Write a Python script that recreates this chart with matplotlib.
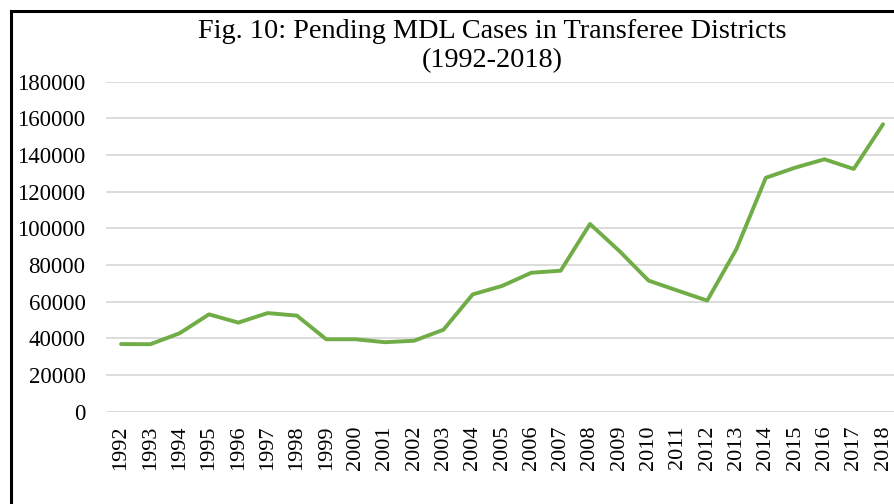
import matplotlib
matplotlib.use("Agg")
import matplotlib.pyplot as plt
from matplotlib.patches import Rectangle

years = [str(y) for y in range(1992, 2019)]
pending = [36900, 36800, 42800, 53100, 48600, 53800, 52400, 39500, 39500, 37900,
           38700, 44700, 64000, 68600, 75800, 76900, 102400, 87700, 71500, 66000,
           60600, 88800, 127600, 133100, 137700, 132400, 156800]
yticks = list(range(0, 180001, 20000))

plt.rcParams['font.family'] = ['Liberation Serif', 'DejaVu Serif']

W, H = 894, 504
fig = plt.figure(figsize=(W / 100, H / 100), dpi=100)
fig.patch.set_facecolor('white')

ax = fig.add_axes([106.4 / W, 1 - 411.7 / H, (897.7 - 106.4) / W, (411.7 - 81.7) / H])
x = list(range(len(years)))
ax.plot(x, pending, color='#70ad47', linewidth=2.8, solid_capstyle='round', solid_joinstyle='round', zorder=3)
ax.set_xlim(-0.5, len(years) - 0.5)
ax.set_ylim(0, 180000)
ax.set_yticks(yticks)
ax.set_yticklabels([str(v) for v in yticks], fontsize=16.5)
ax.set_xticks(x)
ax.set_xticklabels(years, rotation=90, fontsize=16)
ax.grid(axis='y', color='#d9d9d9', linewidth=1.3, zorder=0)
for s in ax.spines.values():
    s.set_visible(False)
ax.tick_params(axis='both', length=0)
ax.tick_params(axis='y', pad=15)
ax.tick_params(axis='x', pad=10)

fig.text(492 / W, 1 - 31 / H, "Fig. 10: Pending MDL Cases in Transferee Districts",
         ha='center', va='center', fontsize=20.3)
fig.text(492 / W, 1 - 61 / H, "(1992-2018)", ha='center', va='center', fontsize=20.3)

# outer frame (left and top visible)
fig.add_artist(Rectangle((11 / W, -0.1), 2.0, 1.1 - 11 / H, transform=fig.transFigure,
                         fill=False, edgecolor='black', linewidth=2.2))

fig.savefig('out.png', dpi=100)
